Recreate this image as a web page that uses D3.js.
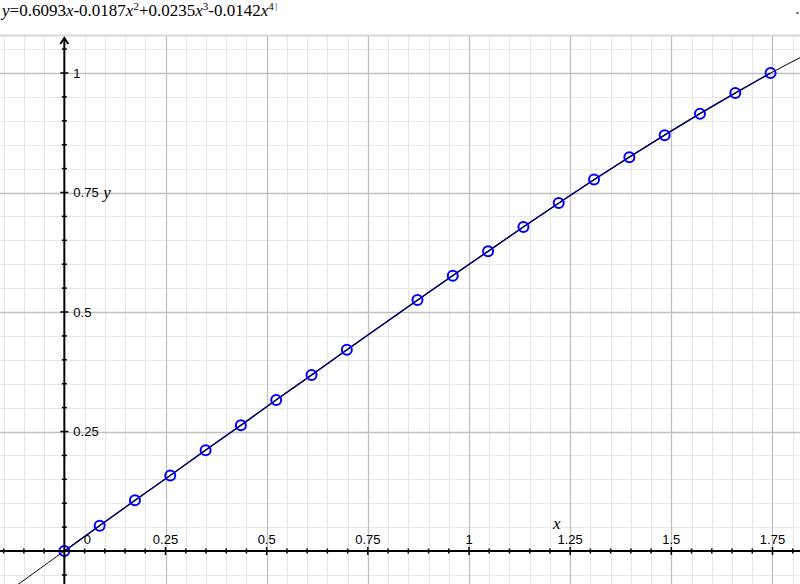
<!DOCTYPE html>
<html><head><meta charset="utf-8">
<script src="https://cdn.jsdelivr.net/npm/d3@7/dist/d3.min.js"></script>
<style>html,body{margin:0;padding:0;background:#fff;}svg{display:block;}</style>
</head><body>
<script>
// ---- data ----
const xValues = [0, 0.0873, 0.1745, 0.2618, 0.3491, 0.4363, 0.5236, 0.6109, 0.6981,
  0.8727, 0.9599, 1.0472, 1.1345, 1.2217, 1.3090, 1.3963, 1.4835, 1.5708, 1.6581, 1.7453];
const yValues = [0, 0.053, 0.106, 0.158, 0.211, 0.263, 0.316, 0.368, 0.421,
  0.525, 0.576, 0.627, 0.678, 0.728, 0.777, 0.824, 0.870, 0.915, 0.958, 1.000];
const coefficients = [0, 0.6093, -0.0187, 0.0235, -0.0142]; // fitted polynomial, c0..c4
const xTickValues = [0, 0.25, 0.5, 0.75, 1, 1.25, 1.5, 1.75];
const xTickLabels = ["0", "0.25", "0.5", "0.75", "1", "1.25", "1.5", "1.75"];
const yTickValues = [0.25, 0.5, 0.75, 1];
const yTickLabels = ["0.25", "0.5", "0.75", "1"];
const minorStep = 0.05;

(function () {
const W = 800, H = 584, plotTop = 36;
const svg = d3.select("body").append("svg").attr("width", W).attr("height", H);

const x = d3.scaleLinear().domain([-0.159, 1.818]).range([0, W]);
const y = d3.scaleLinear().domain([-0.069, 1.0795]).range([H, 35]);

svg.append("defs").append("clipPath").attr("id", "plot")
  .append("rect").attr("x", 0).attr("y", plotTop).attr("width", W).attr("height", H - plotTop);

const g = svg.append("g").attr("clip-path", "url(#plot)");

const xMinor = d3.range(Math.ceil(x.domain()[0] / minorStep), Math.floor(x.domain()[1] / minorStep) + 1).map(k => +(k * minorStep).toFixed(4));
const yMinor = d3.range(Math.ceil(y.domain()[0] / minorStep), Math.floor(y.domain()[1] / minorStep) + 1).map(k => +(k * minorStep).toFixed(4));
const isMajor = v => Math.abs(v / 0.25 - Math.round(v / 0.25)) < 1e-6;

// minor grid
g.selectAll(".gx").data(xMinor.filter(v => !isMajor(v))).enter().append("line")
  .attr("x1", d => Math.round(x(d)) + 0.5).attr("x2", d => Math.round(x(d)) + 0.5)
  .attr("y1", plotTop).attr("y2", H).attr("stroke", "#e6e6e6").attr("stroke-width", 1);
g.selectAll(".gy").data(yMinor.filter(v => !isMajor(v))).enter().append("line")
  .attr("y1", d => Math.round(y(d)) + 0.5).attr("y2", d => Math.round(y(d)) + 0.5)
  .attr("x1", 0).attr("x2", W).attr("stroke", "#e6e6e6").attr("stroke-width", 1);
// major grid
g.selectAll(".Gx").data(xMinor.filter(v => isMajor(v) && v !== 0)).enter().append("line")
  .attr("x1", d => Math.round(x(d)) + 0.5).attr("x2", d => Math.round(x(d)) + 0.5)
  .attr("y1", plotTop).attr("y2", H).attr("stroke", "#c0c0c0").attr("stroke-width", 1.3);
g.selectAll(".Gy").data(yMinor.filter(v => isMajor(v) && v !== 0)).enter().append("line")
  .attr("y1", d => Math.round(y(d)) + 0.5).attr("y2", d => Math.round(y(d)) + 0.5)
  .attr("x1", 0).attr("x2", W).attr("stroke", "#c0c0c0").attr("stroke-width", 1.3);

// top border
svg.append("line").attr("x1", 0).attr("x2", W).attr("y1", plotTop - 0.5).attr("y2", plotTop - 0.5)
  .attr("stroke", "#d8d8d8").attr("stroke-width", 2);

// axes
const ax = svg.append("g").attr("stroke", "#000");
const x0 = x(0), y0 = y(0);
ax.append("line").attr("x1", 0).attr("x2", W).attr("y1", y0).attr("y2", y0).attr("stroke-width", 2);
ax.append("line").attr("x1", x0).attr("x2", x0).attr("y1", plotTop + 2).attr("y2", H).attr("stroke-width", 2);
ax.append("path").attr("d", `M${x0 - 4},${plotTop + 8} L${x0},${plotTop + 2} L${x0 + 4},${plotTop + 8}`)
  .attr("fill", "none").attr("stroke-width", 2);
xMinor.filter(v => v !== 0).forEach(v => {
  const L = isMajor(v) ? 4 : 2.5;
  ax.append("line").attr("x1", x(v)).attr("x2", x(v)).attr("y1", y0 - L).attr("y2", y0 + L).attr("stroke-width", 1.5);
});
yMinor.filter(v => v !== 0).forEach(v => {
  const L = isMajor(v) ? 4 : 2.5;
  ax.append("line").attr("y1", y(v)).attr("y2", y(v)).attr("x1", x0 - L).attr("x2", x0 + L).attr("stroke-width", 1.5);
});

// tick labels
const lab = svg.append("g").attr("font-family", "'Liberation Sans', Arial, sans-serif").attr("font-size", 13).attr("fill", "#000");
lab.selectAll(".xl").data(xTickValues).enter().append("text")
  .attr("x", d => d === 0 ? x(d) + 23 : x(d)).attr("y", y0 - 7)
  .attr("text-anchor", "middle").text((d, i) => xTickLabels[i]);
lab.selectAll(".yl").data(yTickValues).enter().append("text")
  .attr("x", x0 + 9).attr("y", d => y(d) + 4.5)
  .text((d, i) => yTickLabels[i]);

// axis names
svg.append("text").attr("x", x0 + 39).attr("y", 198).attr("font-family", "'Liberation Serif', serif")
  .attr("font-style", "italic").attr("font-size", 17).text("y");
svg.append("text").attr("x", 553).attr("y", 529).attr("font-family", "'Liberation Serif', serif")
  .attr("font-style", "italic").attr("font-size", 17).text("x");

// fitted curve
const poly = t => coefficients.reduce((s, c, k) => s + c * Math.pow(t, k), 0);
const xs = d3.range(x.domain()[0] - 0.05, x.domain()[1] + 0.05, 0.01);
g.append("path").datum(xs)
  .attr("d", d3.line().x(d => x(d)).y(d => y(poly(d))))
  .attr("fill", "none").attr("stroke", "#000").attr("stroke-width", 1);

// data polyline
const pts = xValues.map((v, i) => [v, yValues[i]]);
g.append("path").datum(pts)
  .attr("d", d3.line().x(d => x(d[0])).y(d => y(d[1])))
  .attr("fill", "none").attr("stroke", "#000066").attr("stroke-width", 1.5);

// data points
g.selectAll(".pt").data(pts).enter().append("circle")
  .attr("cx", d => x(d[0])).attr("cy", d => y(d[1])).attr("r", 5)
  .attr("fill", "none").attr("stroke", "#0000ff").attr("stroke-width", 2);

// title
const title = svg.append("text").attr("x", 2).attr("y", 16)
  .attr("font-family", "'Liberation Serif', 'Times New Roman', serif").attr("font-size", 17).attr("fill", "#000");
const parts = [["y", "i"], ["=0.6093", "n"], ["x", "i"], ["-0.0187", "n"], ["x", "i"], ["2", "s"],
  ["+0.0235", "n"], ["x", "i"], ["3", "s"], ["-0.0142", "n"], ["x", "i"], ["4", "s"]];
let prevSup = false;
parts.forEach(([t, k]) => {
  const ts = title.append("tspan").text(t);
  if (k === "i") ts.attr("font-style", "italic");
  if (k === "s") { ts.attr("font-size", 11).attr("dy", -6); prevSup = true; }
  else if (prevSup) { ts.attr("dy", 6); prevSup = false; }
});
const tw = title.node().getComputedTextLength();
svg.append("line").attr("x1", 2 + tw + 2.5).attr("x2", 2 + tw + 2.5).attr("y1", 3).attr("y2", 11)
  .attr("stroke", "#999").attr("stroke-width", 1);
svg.append("rect").attr("x", 796).attr("y", 12).attr("width", 3).attr("height", 2).attr("fill", "#888");
})();
</script>
</body></html>
